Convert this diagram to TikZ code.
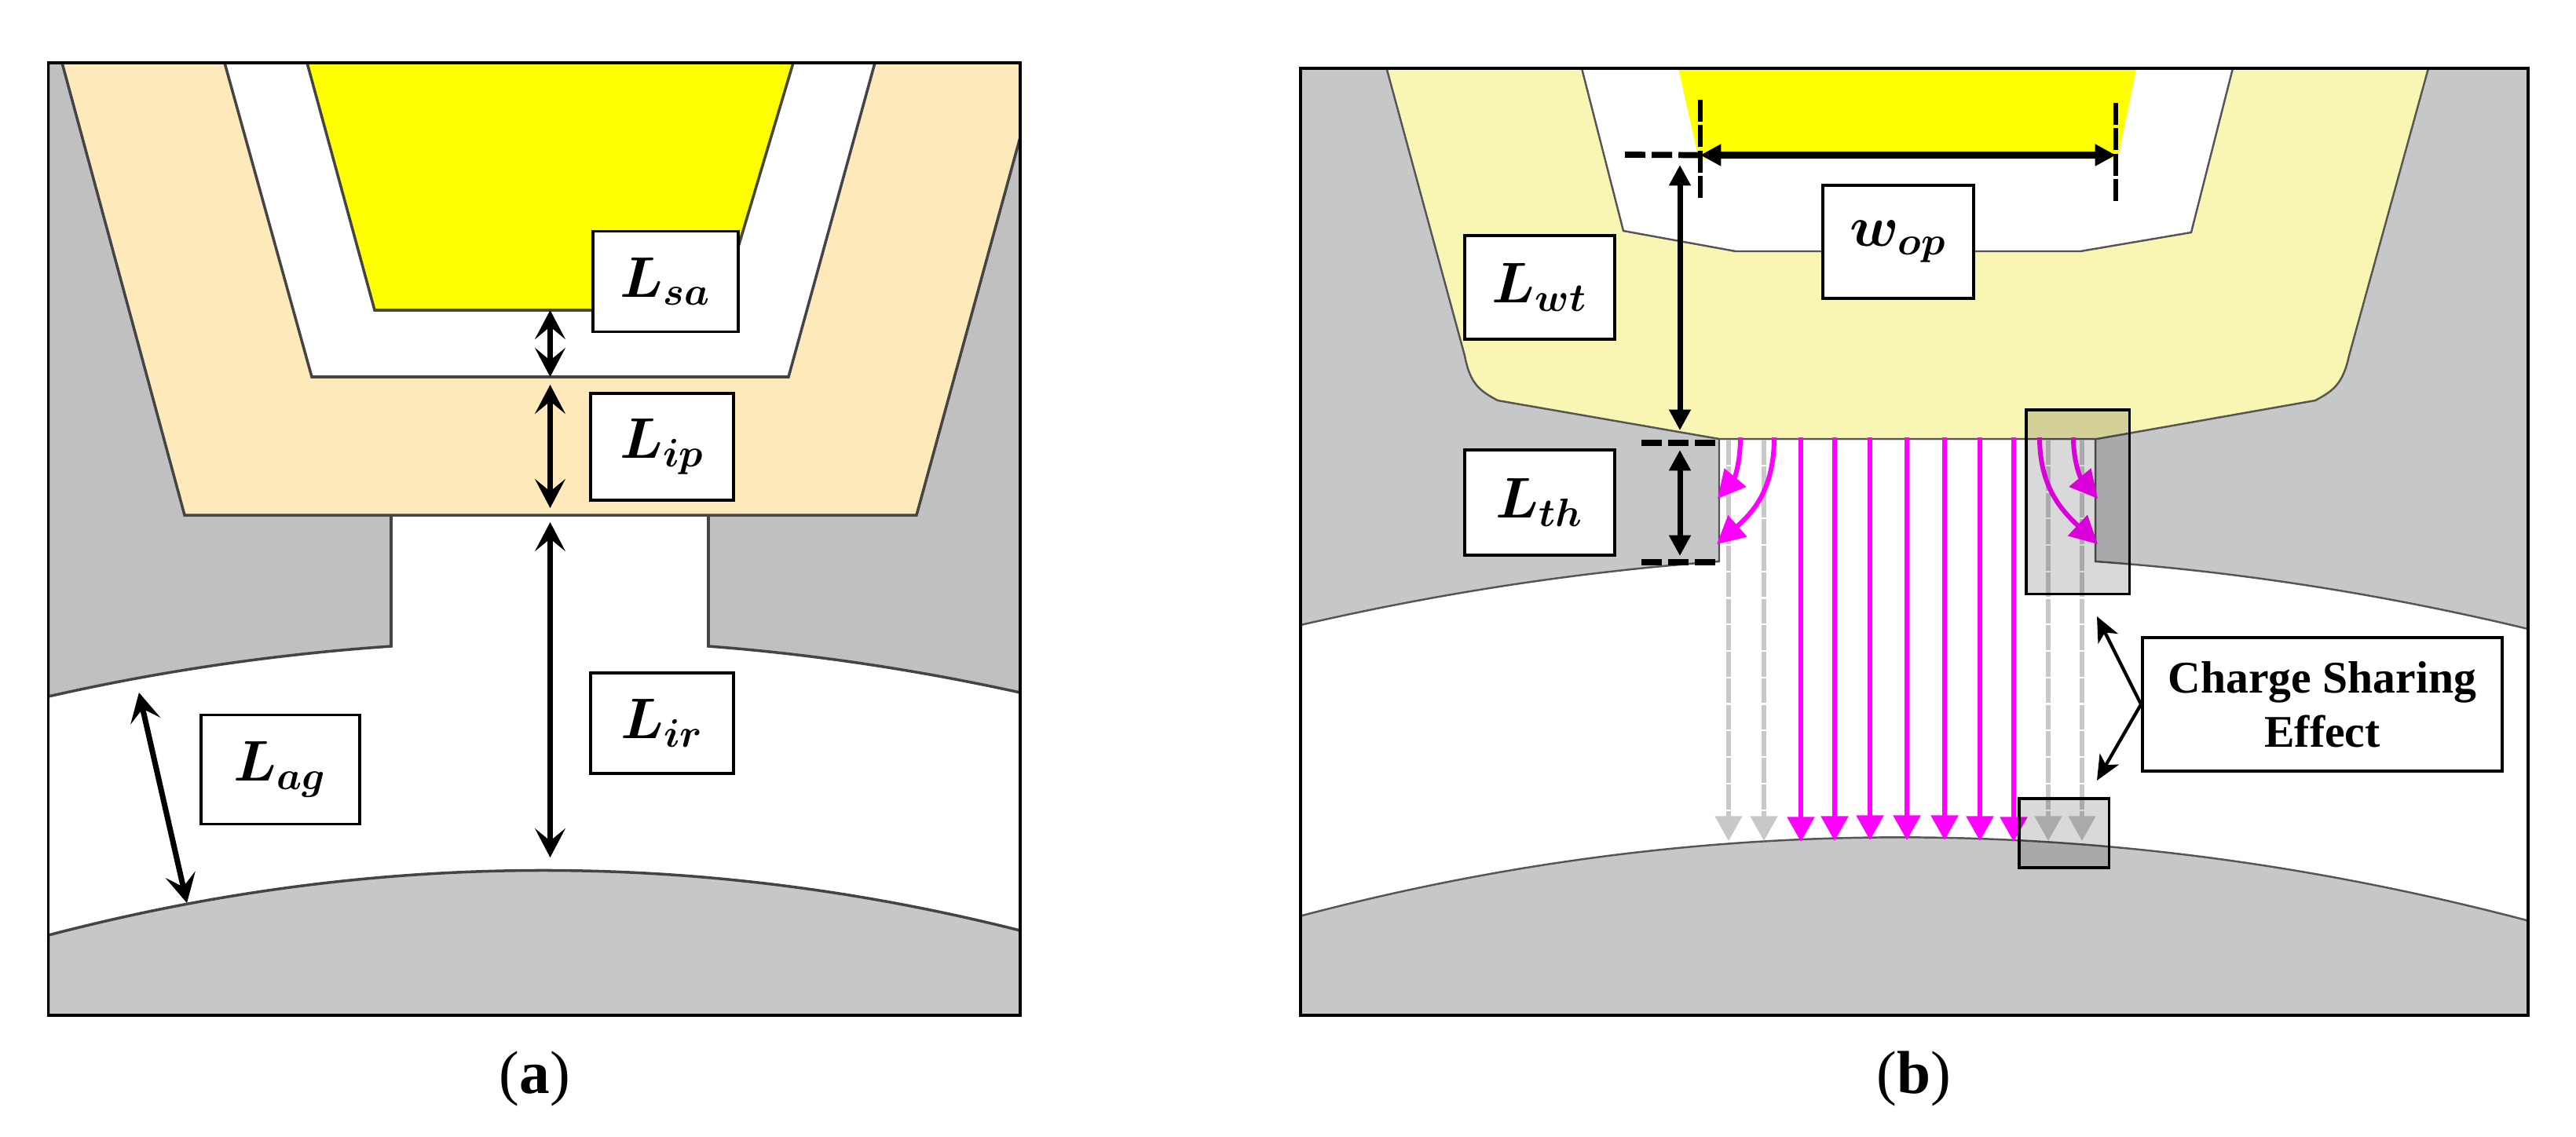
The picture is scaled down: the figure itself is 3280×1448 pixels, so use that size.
\documentclass[tikz,border=0pt]{standalone}
\usepackage{fontspec}
\setmainfont{Liberation Serif}
\usetikzlibrary{arrows.meta, positioning}
\definecolor{statorA}{HTML}{C0C0C0}
\definecolor{statorB}{HTML}{C6C7C9}
\definecolor{beigeA}{HTML}{FDE9BA}
\definecolor{paleB}{HTML}{F9F5B3}
\definecolor{pureyellow}{HTML}{FFFF00}
\definecolor{edgeA}{HTML}{444444}
\definecolor{edgeB}{HTML}{555555}
\definecolor{fluxgray}{HTML}{C8C8C8}
\definecolor{fluxpink}{HTML}{FF00FF}
\tikzset{
	frameline/.style={draw=black, line width=0.9pt},
	partA/.style={draw=edgeA, line width=1pt},
	partB/.style={draw=edgeB, line width=0.7pt},
	lenbox/.style={draw=black, fill=white, line width=0.9pt, inner sep=0pt, font=\huge\boldmath},
	lenarrowA/.style={line width=2pt, {Stealth[length=10.5pt,width=11pt,inset=4.5pt]}-{Stealth[length=10.5pt,width=11pt,inset=4.5pt]}},
	lenarrowB/.style={line width=2pt, {Triangle[length=7.5pt,width=7.5pt]}-{Triangle[length=7.5pt,width=7.5pt]}},
	guidedash/.style={line width=2.2pt, dash pattern=on 7.4pt off 2.3pt},
	guidevert/.style={line width=1.9pt, dash pattern=on 8pt off 1.2pt},
	fluxmain/.style={draw=fluxpink, line width=1.7pt, -{Triangle[length=9pt,width=9.6pt]}},
	fluxleak/.style={draw=fluxgray, line width=1.5pt, dash pattern=on 9pt off 0.6pt, -{Triangle[length=9pt,width=9.6pt]}},
	fluxbend/.style={draw=fluxpink, line width=1.7pt, -{Triangle[length=10pt,width=10pt]}},
	shadebox/.style={draw=black, fill=black, fill opacity=0.15, line width=1pt},
	callout/.style={line width=1.2pt, -{Stealth[length=9pt,width=8pt,inset=2.5pt]}},
	captionlabel/.style={inner sep=0pt, font=\fontsize{22}{26}\selectfont},
}

\begin{document}
\begin{tikzpicture}[x=0.01cm, y=-0.01cm]
	\useasboundingbox (0,0) rectangle (3280,1448);

	\begin{scope}
		\clip (61.5,80) rectangle (1299,1293);
		\draw[partA, fill=statorA] (61.5,80) -- (61.5,887) .. controls (207,854) and (353,833) .. (498,823) -- (498,656) -- (902,656) -- (902,823) .. controls (1034,833) and (1167,853) .. (1299,882) -- (1299,80) -- cycle;
		\draw[partA, fill=statorB] (61.5,1191) .. controls (474,1083) and (886,1081) .. (1299,1185) -- (1299,1293) -- (61.5,1293) -- cycle;
		\draw[partA, fill=beigeA] (79,80) -- (235,656) -- (1167,656) -- (1325,80) -- cycle;
		\draw[partA, fill=white] (286,80) -- (397,480) -- (1004,480) -- (1114,80) -- cycle;
		\draw[partA, fill=pureyellow] (391,80) -- (477,395) -- (916,395) -- (1010,80) -- cycle;
	\end{scope}
	\draw[frameline] (61.5,80) rectangle (1299,1293);

	\coordinate (sa1) at (700.5,395);
	\coordinate (sa2) at (700.5,480);
	\coordinate (ip1) at (700.5,490);
	\coordinate (ip2) at (700.5,647);
	\coordinate (ir1) at (700.5,665);
	\coordinate (ir2) at (700.5,1092);
	\coordinate (ag1) at (177,882);
	\coordinate (ag2) at (238,1150);

	\draw[lenarrowA] (sa1) -- (sa2);
	\draw[lenarrowA] (ip1) -- (ip2);
	\draw[lenarrowA] (ir1) -- (ir2);
	\draw[lenarrowA] (ag1) -- (ag2);

	\node[lenbox, minimum width=1.85cm, minimum height=1.28cm] (Lsa) at (847.5,358.5) {$L_{sa}$};
	\node[lenbox, minimum width=1.82cm, minimum height=1.36cm] (Lip) at (843,569) {$L_{ip}$};
	\node[lenbox, minimum width=1.82cm, minimum height=1.28cm] (Lir) at (843,921) {$L_{ir}$};
	\node[lenbox, minimum width=2.02cm, minimum height=1.39cm] (Lag) at (357,980) {$L_{ag}$};

	\node[captionlabel] (capA) at (681,1374) {(\textbf{a})};

	\begin{scope}
		\clip (1656,87) rectangle (3219,1293);
		\draw[partB, fill=statorB] (1656,87) -- (1656,796) .. controls (1834,755) and (2011,728) .. (2189,715) -- (2189,559) -- (2668,559) -- (2668,715) .. controls (2851,728) and (3036,757) .. (3219,801) -- (3219,87) -- cycle;
		\draw[partB, fill=statorB] (1656,1166.5) .. controls (2168,1031) and (2689,1033) .. (3219,1172.5) -- (3219,1293) -- (1656,1293) -- cycle;
		\draw[partB, fill=paleB] (1765.5,87) -- (1865,453) .. controls (1872,490) and (1885,498) .. (1907,510) -- (2189,559) -- (2670,559) -- (2948,510) .. controls (2970,498) and (2983,490) .. (2991,453) -- (3092,87) -- cycle;
		\draw[partB, fill=white] (2014,87) -- (2067,294) -- (2210,320) -- (2649,320) -- (2790,296) -- (2843,87) -- cycle;
		\fill[pureyellow] (2137,87) -- (2163,202) -- (2696.5,202) -- (2720,87) -- cycle;
	\end{scope}
	\draw[frameline] (1656,87) rectangle (3219,1293);

	\draw[fluxleak] (2201,560) -- (2201,1071);
	\draw[fluxleak] (2246,560) -- (2246,1071);
	\draw[fluxleak] (2608,560) -- (2608,1071);
	\draw[fluxleak] (2651,560) -- (2651,1071);

	\draw[fluxmain] (2293,557) -- (2293,1072);
	\draw[fluxmain] (2336,557) -- (2336,1071);
	\draw[fluxmain] (2381,557) -- (2381,1070);
	\draw[fluxmain] (2428,557) -- (2428,1070);
	\draw[fluxmain] (2476,557) -- (2476,1070);
	\draw[fluxmain] (2521,557) -- (2521,1071);
	\draw[fluxmain] (2564,557) -- (2564,1072);

	\draw[fluxbend] (2216,557) .. controls (2216,590) and (2208,610) .. (2187,635);
	\draw[fluxbend] (2259,557) .. controls (2259,620) and (2235,650) .. (2186,693);
	\draw[fluxbend] (2597,557) .. controls (2597,620) and (2625,650) .. (2671,693);
	\draw[fluxbend] (2640,557) .. controls (2640,590) and (2650,610) .. (2671,635);

	\draw[shadebox] (2580,522) rectangle (2711.5,756.5);
	\draw[shadebox] (2571,1017) rectangle (2685.5,1105);

	\coordinate (wl) at (2165,197.5);
	\coordinate (wr) at (2694,197.5);
	\coordinate (wt1) at (2139,210);
	\coordinate (wt2) at (2139,548);
	\coordinate (th1) at (2139,573);
	\coordinate (th2) at (2139,708);

	\draw[guidedash] (2069,197) -- (wl);
	\draw[guidedash] (2090,564) -- (2186,564);
	\draw[guidedash] (2090,716) -- (2186,716);
	\draw[guidevert] (2165,127) -- (2165,255);
	\draw[guidevert] (2694,131) -- (2694,260);

	\draw[lenarrowB, line width=2.5pt] (wl) -- (wr);
	\draw[lenarrowB] (wt1) -- (wt2);
	\draw[lenarrowB] (th1) -- (th2);

	\node[lenbox, minimum width=1.92cm, minimum height=1.44cm] (wop) at (2417,308) {$w_{op}$};
	\node[lenbox, minimum width=1.91cm, minimum height=1.32cm] (Lwt) at (1960.5,366) {$L_{wt}$};
	\node[lenbox, minimum width=1.91cm, minimum height=1.34cm] (Lth) at (1960.5,640) {$L_{th}$};
	\node[draw=black, fill=white, line width=1pt, minimum width=4.58cm, minimum height=1.7cm, align=center, inner sep=0pt, font=\fontsize{16.4}{19.6}\selectfont\bfseries] (sharing) at (2957,897) {Charge Sharing\\Effect};

	\coordinate (tipup) at (2670,785);
	\coordinate (tipdown) at (2670,994);
	\draw[callout] (sharing.west) -- (tipup);
	\draw[callout] (sharing.west) -- (tipdown);

	\node[captionlabel] (capB) at (2437,1374) {(\textbf{b})};
\end{tikzpicture}
\end{document}
